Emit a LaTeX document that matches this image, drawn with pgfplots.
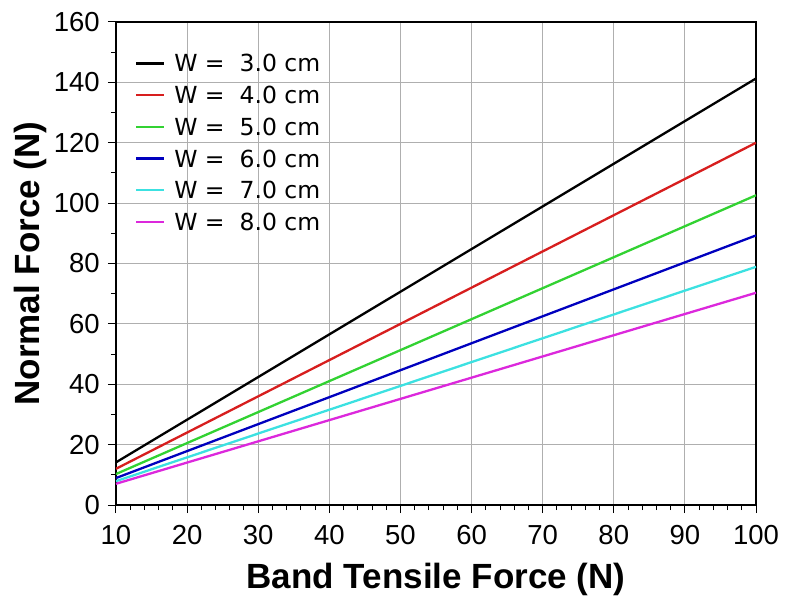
\documentclass[border=0pt]{standalone}
\usepackage{fontspec}
\setmainfont{Liberation Sans}
\newfontfamily\legfont{DejaVu Sans}
\usepackage{pgfplots}
\pgfplotsset{compat=1.18}
\definecolor{cred}{RGB}{215,30,30}
\definecolor{cgreen}{RGB}{50,210,50}
\definecolor{cblue}{RGB}{0,0,190}
\definecolor{ccyan}{RGB}{60,225,225}
\definecolor{cmag}{RGB}{220,40,220}
\definecolor{cgrid}{RGB}{175,175,175}
\begin{document}
\begin{tikzpicture}
\useasboundingbox (-116pt,-100pt) rectangle (676pt,505pt);
\begin{axis}[
  at={(0pt,0pt)}, anchor=south west,
  scale only axis, width=640pt, height=483pt,
  xmin=10, xmax=100, ymin=0, ymax=160,
  xtick={10,20,...,100}, ytick={0,20,...,160},
  minor x tick num=4, minor y tick num=1,
  tick align=outside,
  major tick length=8pt, minor tick length=5pt,
  tick style={black, line width=1pt},
  xtick pos=bottom, ytick pos=left,
  grid=major,
  major grid style={cgrid, line width=0.8pt},
  axis line style={black, line width=2.8pt},
  /pgf/number format/assume math mode=true,
  ticklabel style={font=\fontsize{27.5}{30}\selectfont},
  yticklabel style={inner sep=0pt, xshift=-8pt},
  xticklabel style={inner sep=0pt, yshift=-12pt},
  xlabel={\bfseries Band Tensile Force (N)},
  ylabel={\bfseries Normal Force (N)},
  label style={font=\fontsize{35}{40}\selectfont},
  xlabel style={at={(axis description cs:0.5,0)}, anchor=base, yshift=-83pt},
  ylabel style={at={(axis description cs:0,0.5)}, anchor=base, yshift=76pt},
  legend cell align=left,
  legend image code/.code={\draw[#1] (0pt,0pt) -- (28pt,0pt);},
  legend style={at={(0.0297,0.9317)}, anchor=north west, draw=none, fill=none,
    inner sep=0pt, outer sep=0pt,
    font=\legfont\fontsize{23.5}{28}\selectfont,
    nodes={inner sep=0pt, text height=17pt, text depth=0pt},
    row sep=14.7pt,
    /tikz/every odd column/.append style={column sep=9pt}},
]
\addplot[black, line width=2.3pt] coordinates {(10,14.13) (100,141.3)};
\addlegendentry{W = \ 3.0 cm}
\addplot[cred, line width=2.3pt] coordinates {(10,12.0) (100,120.0)};
\addlegendentry{W = \ 4.0 cm}
\addplot[cgreen, line width=2.3pt] coordinates {(10,10.26) (100,102.6)};
\addlegendentry{W = \ 5.0 cm}
\addplot[cblue, line width=2.3pt] coordinates {(10,8.93) (100,89.3)};
\addlegendentry{W = \ 6.0 cm}
\addplot[ccyan, line width=2.3pt] coordinates {(10,7.89) (100,78.9)};
\addlegendentry{W = \ 7.0 cm}
\addplot[cmag, line width=2.3pt] coordinates {(10,7.03) (100,70.3)};
\addlegendentry{W = \ 8.0 cm}
\end{axis}
\end{tikzpicture}
\end{document}
